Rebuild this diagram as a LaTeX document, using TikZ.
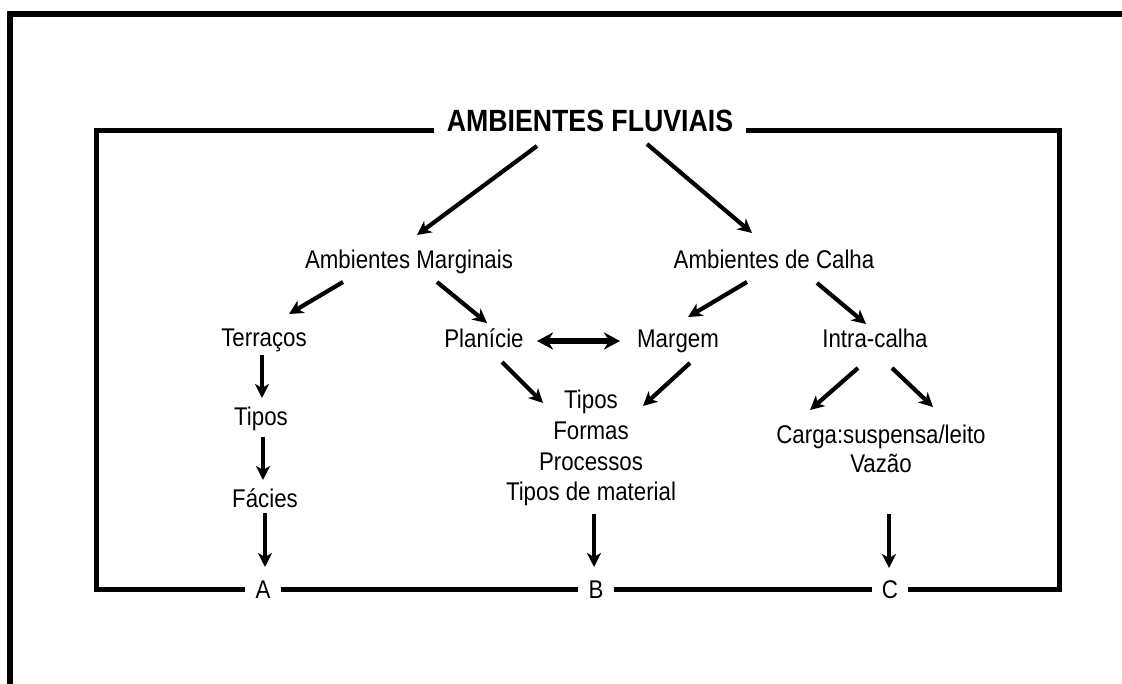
\documentclass[tikz,border=0pt]{standalone}
\usepackage{fontspec}
\setmainfont{Liberation Sans}[FakeStretch=0.87]
\usetikzlibrary{arrows.meta,calc}
\begin{document}
\begin{tikzpicture}[x=1pt,y=-1pt,
  lbl/.style={font=\fontsize{25.6}{30.7}\selectfont, inner sep=0pt, anchor=base},
  ttl/.style={font=\fontsize{30.7}{36}\selectfont\bfseries, inner xsep=13pt, inner ysep=0pt, anchor=base},
  blk/.style={font=\fontsize{25.6}{30.7}\selectfont, inner sep=0pt, align=center, anchor=north},
  letter/.style={font=\fontsize{25.6}{30}\selectfont, inner xsep=10pt, inner ysep=0pt},
  arr/.style={line width=4.2pt, -{Stealth[length=14pt,width=14pt,inset=4pt]}},
  darr/.style={line width=5.5pt, {Stealth[length=16pt,width=17pt,inset=5pt]}-{Stealth[length=16pt,width=17pt,inset=5pt]}},
  boxline/.style={line width=5pt, line join=miter},
  frameline/.style={line width=5.5pt, line join=miter}]
\useasboundingbox (0,0) rectangle (1122,684);
\fill[white] (0,0) rectangle (1122,684);
% outer frame (top and left)
\draw[frameline] (1130,14) -- (10,14) -- (10,690);
% box corners
\coordinate (tl) at (96.5,130.5);
\coordinate (tr) at (1059,130.5);
\coordinate (bl) at (96.5,589.5);
\coordinate (br) at (1059,589.5);
% nodes
\node[ttl] (title) at (590,132) {AMBIENTES FLUVIAIS};
\node[lbl] (am) at (409,269) {Ambientes Marginais};
\node[lbl] (ac) at (774,269) {Ambientes de Calha};
\node[lbl] (ter) at (264,347) {Terraços};
\node[lbl] (pla) at (484,348) {Planície};
\node[lbl] (mar) at (678,348) {Margem};
\node[lbl] (int) at (875,348) {Intra-calha};
\node[lbl] (tip1) at (261,426) {Tipos};
\node[lbl] (fac) at (265,507) {Fácies};
\node[blk] (tipos) at (591,390) {Tipos\\Formas\\Processos\\Tipos de material};
\node[blk, font=\fontsize{25.6}{29}\selectfont] (carga) at (881,425) {Carga:suspensa/leito\\Vazão};
\node[letter] (A) at (263,589.5) {A};
\node[letter] (B) at (596,589.5) {B};
\node[letter] (C) at (890,589.5) {C};
% box
\draw[boxline] (title.west |- tl) -- (tl) -- (bl) -- (A.west);
\draw[boxline] (A) -- (B);
\draw[boxline] (B) -- (C);
\draw[boxline] (C.east) -- (br) -- (tr) -- (title.east |- tr);
% arrows
\draw[arr] ([shift={(-53,14)}]title.base) -- ([shift={(8,-34)}]am.base);
\draw[arr] ([shift={(57,12)}]title.base) -- ([shift={(-22,-36)}]ac.base);
\draw[arr] ([shift={(-66,13)}]am.base) -- ([shift={(25,-33)}]ter.base);
\draw[arr] ([shift={(28,13)}]am.base) -- ([shift={(3,-25)}]pla.base);
\draw[arr] ([shift={(-27,13)}]ac.base) -- ([shift={(10,-31)}]mar.base);
\draw[arr] ([shift={(43,14)}]ac.base) -- ([shift={(-9,-24)}]int.base);
\draw[darr] ([shift={(53,-7)}]pla.base) -- ([shift={(-58,-7)}]mar.base);
\draw[arr] ([shift={(-2,8)}]ter.base) -- ([shift={(1,-28)}]tip1.base);
\draw[arr] ([shift={(2,11)}]tip1.base) -- ([shift={(-2,-27)}]fac.base);
\draw[arr] ([shift={(0,6)}]fac.base) -- ([shift={(2,-22.5)}]A.center);
\draw[arr] ([shift={(18,14)}]pla.base) -- ([shift={(-48,13)}]tipos.north);
\draw[arr] ([shift={(12,15)}]mar.base) -- ([shift={(52,16)}]tipos.north);
\draw[arr] ([shift={(3,7.6)}]tipos.south) -- ([shift={(-2,-22.5)}]B.center);
\draw[arr] ([shift={(-17,20)}]int.base) -- ([shift={(-71,-15)}]carga.north);
\draw[arr] ([shift={(17,20)}]int.base) -- ([shift={(52,-18)}]carga.north);
\draw[arr] ([shift={(8,41)}]carga.south) -- ([shift={(-1,-21.5)}]C.center);
\end{tikzpicture}
\end{document}
